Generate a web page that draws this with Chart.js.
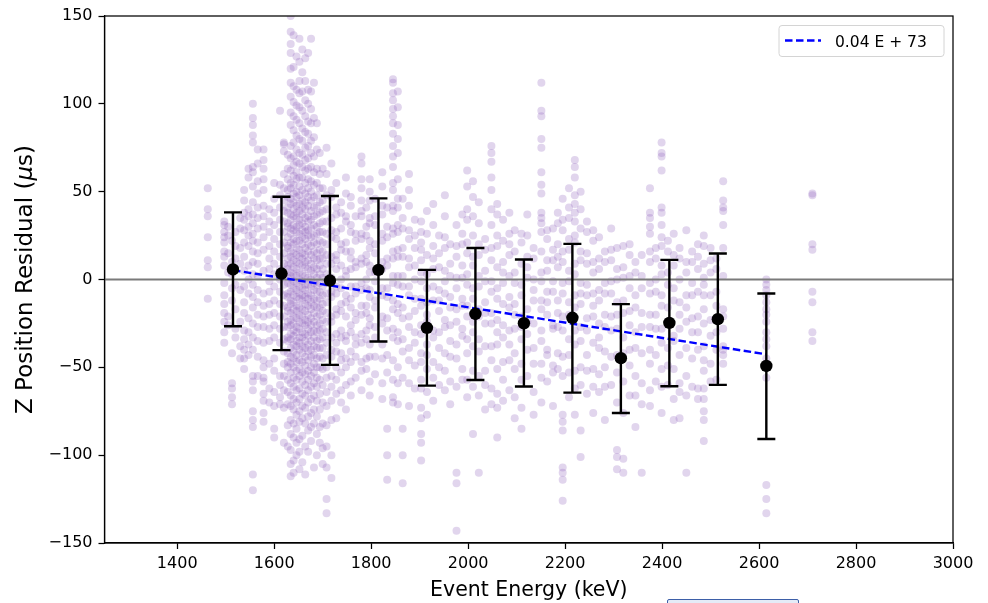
<!DOCTYPE html>
<html>
<head>
<meta charset="utf-8">
<script src="https://cdn.jsdelivr.net/npm/chart.js@4.4.1/dist/chart.umd.min.js"></script>
<style>
    html, body { margin: 0; padding: 0; background: #fff; }
    #wrap { position: relative; width: 988px; height: 603px; overflow: hidden; }
    #stub { position: absolute; left: 667px; top: 599px; width: 130px; height: 12px; border: 1px solid #3d5fa8; border-radius: 2px; background: #e4ebf7; }
</style>
</head>
<body>
<div id="wrap">
    <canvas id="chart" width="988" height="603"></canvas>
    <div id="stub"></div>
</div>
<script>
// axis ranges and ticks
const xMin = 1250, xMax = 3000;
const yMin = -150, yMax = 150;
const xTicks = [1400, 1600, 1800, 2000, 2200, 2400, 2600, 2800, 3000];
const yTicks = [-150, -100, -50, 0, 50, 100, 150];

// binned means with error bars
const binEnergy = [1515, 1615, 1715, 1815, 1915, 2015, 2115, 2215, 2315, 2415, 2515, 2615];
const binMean   = [5.7, 3.4, -0.6, 5.5, -27.5, -19.6, -24.9, -21.8, -44.8, -24.7, -22.6, -49.2];
const binHigh   = [38.2, 47.1, 47.5, 46.2, 5.5, 17.9, 11.4, 20.3, -14.0, 11.2, 14.8, -8.0];
const binLow    = [-26.6, -40.2, -48.6, -35.3, -60.4, -57.2, -60.9, -64.4, -76.0, -60.8, -60.0, -90.8];

// linear fit
const fitLabel = '0.04 E + 73';
const fitEnergy = [1515, 2615];
const fitResidual = [5.3, -42.6];

// individual events, grouped in energy stripes (keV) -> residuals (us)
const stripeEnergy = [
    1463, 1497, 1505, 1513, 1520, 1530, 1538, 1547, 1556, 1566,
    1578, 1590, 1600, 1612, 1620, 1628, 1634, 1640, 1646, 1652,
    1658, 1664, 1670, 1676, 1682, 1688, 1694, 1700, 1708, 1718,
    1728, 1738, 1748, 1758, 1768, 1780, 1790, 1797, 1808, 1823,
    1833, 1845, 1855, 1865, 1878, 1890, 1903, 1915, 1928, 1940,
    1952, 1963, 1976, 1988, 1998, 2010, 2022, 2035, 2048, 2060,
    2072, 2085, 2096, 2110, 2122, 2135, 2151, 2163, 2175, 2185,
    2195, 2208, 2220, 2232, 2245, 2258, 2270, 2282, 2295, 2307,
    2320, 2333, 2345, 2358, 2375, 2387, 2399, 2412, 2424, 2436,
    2450, 2462, 2474, 2486, 2500, 2512, 2526, 2615, 2710
];
const stripeResidual = [
    [52, 40, 36, 24, 11, 7, -11],
    [33, 31, 27, 24, 21, 16, 13, 8, -2, -9, -14, -19, -24, -30, -36],
    [30, 25, 15, 4, -21, -26],
    [22, 10, 3, -5, -12, -42, -59, -62, -67, -71],
    [27, 19, 12, -3, -17, -28, -33],
    [35, 29, 18, 9, -6, -24, -38, -45],
    [51, 45, 38, 34, 28, 21, 13, 5, -4, -13, -19, -29, -34, -40, -45, -51],
    [63, 58, 40, 36, 30, 25, 19, 8, 0, -8, -22, -30, -37, -43],
    [100, 92, 88, 82, 78, 64, 61, 53, 44, 37, 32, 26, 22, 16, 10, 3, -3, -10, -16, -25, -33, -40, -55, -58, -63, -75, -80, -84, -111, -120],
    [74, 66, 56, 49, 41, 35, 29, 21, 15, 9, 2, -6, -13, -20, -27, -35, -44, -55],
    [74, 68, 63, 57, 51, 42, 36, 30, 24, 17, 5, -8, -15, -21, -27, -36, -46, -50, -56, -58, -65, -69, -76, -81],
    [40, 33, 27, 19, 12, 6, -1, -7, -14, -20, -28, -35, -48, -62, -70],
    [55, 46, 38, 31, 23, 16, 9, 3, -4, -12, -19, -26, -33, -45, -52, -64, -72, -85, -90],
    [96, 54, 48, 41, 34, 27, 20, 13, 6, 0, -7, -14, -21, -28, -36, -55, -60, -67, -71],
    [78, 77, 73, 60, 52, 45, 39, 33, 27, 21, 15, 9, 3, -3, -9, -15, -21, -27, -34, -41, -48, -55, -63, -73, -93],
    [71, 63, 57, 51, 47, 41, 38, 32, 30, 24, 19, 18, 12, 8, 6, 1, -2, -8, -10, -16, -18, -24, -27, -33, -35, -42, -47, -50, -57, -64, -71, -83, -95],
    [150, 141, 134, 129, 120, 112, 104, 95, 88, 76, 69, 62, 55, 52, 46, 43, 37, 34, 29, 26, 21, 16, 13, 9, 4, 2, -3, -7, -12, -14, -19, -23, -26, -31, -34, -39, -44, -48, -53, -59, -66, -72, -80, -88, -97, -105, -112],
    [139, 121, 110, 101, 93, 85, 78, 70, 65, 59, 54, 49, 44, 40, 36, 31, 28, 23, 20, 15, 11, 7, 3, -1, -5, -9, -13, -17, -21, -25, -29, -32, -37, -41, -45, -50, -56, -61, -68, -74, -82, -90, -103, -110],
    [127, 108, 99, 91, 82, 74, 67, 61, 57, 50, 47, 42, 38, 35, 30, 27, 22, 18, 14, 10, 6, 2, -2, -6, -10, -15, -18, -22, -27, -30, -35, -38, -43, -47, -52, -57, -63, -70, -77, -85, -93, -100],
    [137, 124, 113, 106, 98, 89, 80, 72, 66, 58, 53, 48, 43, 39, 34, 31, 26, 22, 17, 13, 9, 4, 0, -4, -8, -11, -16, -20, -24, -28, -33, -36, -40, -46, -51, -55, -62, -68, -75, -81, -91, -98, -108],
    [131, 118, 107, 96, 86, 79, 71, 64, 58, 51, 45, 41, 37, 32, 28, 24, 20, 15, 12, 8, 3, -1, -5, -9, -12, -17, -21, -25, -30, -33, -38, -42, -47, -53, -58, -65, -72, -79, -89, -104],
    [126, 113, 102, 93, 84, 75, 68, 62, 55, 49, 44, 40, 35, 30, 27, 23, 18, 14, 10, 7, 2, -3, -6, -10, -14, -18, -23, -26, -31, -35, -39, -44, -49, -54, -60, -66, -73, -82, -95, -111],
    [129, 108, 100, 90, 83, 76, 69, 63, 57, 52, 47, 42, 36, 33, 28, 25, 20, 16, 11, 6, 1, -3, -8, -11, -15, -20, -24, -28, -32, -37, -41, -46, -52, -57, -63, -70, -78, -86, -98],
    [137, 107, 97, 89, 79, 72, 64, 56, 50, 45, 39, 34, 29, 24, 19, 14, 9, 5, 0, -4, -9, -13, -17, -22, -26, -30, -35, -40, -44, -50, -55, -61, -68, -76, -84, -92],
    [112, 92, 81, 70, 61, 54, 47, 41, 36, 31, 25, 21, 16, 12, 7, 3, -2, -6, -11, -15, -19, -24, -29, -33, -38, -43, -48, -53, -59, -66, -74, -82, -107],
    [89, 74, 63, 55, 48, 42, 37, 30, 26, 20, 15, 11, 6, 1, -3, -7, -12, -16, -21, -26, -30, -35, -39, -45, -50, -56, -61, -69, -78, -88, -100],
    [72, 60, 52, 44, 38, 32, 27, 22, 17, 12, 8, 3, -2, -7, -11, -16, -20, -25, -29, -34, -39, -44, -50, -57, -65, -74, -84, -93],
    [63, 52, 45, 39, 33, 27, 21, 16, 12, 6, 1, -4, -9, -14, -18, -23, -28, -33, -39, -45, -51, -60, -70, -82, -96, -105],
    [75, 60, 48, 40, 33, 26, 20, 14, 9, 3, -2, -8, -13, -19, -24, -30, -36, -43, -50, -56, -64, -72, -83, -95, -107, -125, -133],
    [66, 51, 47, 35, 28, 24, 13, 9, 1, -7, -10, -21, -24, -33, -40, -44, -55, -61, -69, -80, -100, -113],
    [55, 41, 37, 27, 23, 14, 11, 6, -4, -8, -17, -20, -31, -36, -41, -50, -57, -65, -79],
    [44, 38, 29, 20, 17, 8, 0, -5, -14, -18, -29, -33, -42, -46, -53, -63, -70],
    [58, 49, 36, 33, 21, 16, 5, 2, -9, -13, -21, -32, -35, -45, -50, -60, -74],
    [47, 42, 31, 27, 16, 12, 6, -4, -11, -16, -26, -30, -41, -47, -58, -66],
    [36, 26, 22, 10, 7, -4, -8, -19, -23, -33, -37, -44, -56],
    [70, 66, 57, 52, 45, 39, 36, 26, 23, 12, 9, -2, -6, -15, -20, -31, -36, -47, -52, -63],
    [41, 30, 25, 14, 10, 0, -5, -15, -19, -29, -34, -45, -51],
    [57, 50, 45, 35, 32, 22, 18, 8, 4, -6, -10, -22, -26, -37, -44, -58, -66],
    [46, 36, 31, 20, 15, 4, -1, -12, -16, -27, -33, -44, -54],
    [61, 53, 42, 37, 26, 22, 10, 6, -5, -9, -21, -25, -37, -45, -59, -68],
    [41, 30, 24, 12, 8, -5, -10, -22, -29, -43, -53, -85, -100, -114],
    [114, 112, 106, 102, 97, 93, 89, 83, 76, 70, 64, 55, 51, 42, 39, 29, 26, 16, 12, 2, -2, -12, -17, -28, -33, -46, -57, -67, -70],
    [107, 98, 88, 80, 72, 57, 46, 41, 31, 27, 17, 13, 2, -3, -14, -19, -30, -35, -50, -59, -71],
    [46, 35, 29, 18, 13, 2, -4, -16, -22, -34, -41, -56, -85, -100, -116],
    [60, 51, 42, 28, 23, 12, 7, -4, -9, -21, -27, -39, -46, -59, -72],
    [34, 25, 18, 8, 0, -11, -18, -30, -36, -49, -62],
    [33, 27, 21, 17, 11, 4, -1, -11, -15, -26, -31, -42, -47, -57, -62, -73, -79, -88, -93, -103],
    [39, 26, 14, 3, -5, -13, -20, -24, -37, -43, -51, -64, -77],
    [43, 31, 19, 12, 6, -4, -12, -29, -33, -47, -56, -69],
    [25, 15, 7, -6, -12, -18, -30, -39, -50, -60],
    [48, 36, 24, 18, 5, -1, -8, -23, -27, -42, -52, -63],
    [20, 9, 2, -10, -16, -26, -35, -44, -58, -71],
    [31, 19, 13, 1, -5, -17, -24, -37, -45, -61, -110, -116, -143],
    [37, 26, 20, 8, 1, -11, -15, -28, -32, -51, -57],
    [62, 53, 40, 34, 21, 15, 3, -3, -15, -21, -34, -42, -57, -67],
    [56, 47, 36, 25, 13, 8, -5, -11, -24, -30, -38, -52, -61, -88],
    [44, 32, 20, 14, 2, -4, -17, -21, -34, -41, -55, -66, -110],
    [23, 17, 5, -1, -13, -19, -25, -38, -52, -60, -74],
    [76, 72, 67, 58, 51, 40, 31, 18, 11, -1, -7, -19, -25, -38, -46, -62, -71],
    [43, 37, 25, 19, 7, -5, -11, -23, -30, -37, -51, -65, -73, -90],
    [34, 22, 10, 4, -2, -14, -26, -33, -47, -57, -69],
    [38, 26, 20, 14, 2, -10, -16, -29, -37, -46, -63],
    [28, 16, 4, -2, -14, -20, -28, -42, -51, -67, -79],
    [26, 21, 9, -3, -9, -21, -27, -34, -48, -57, -73, -85],
    [37, 25, 13, 7, 1, -17, -24, -31, -40, -55],
    [18, 12, 0, -6, -12, -25, -39, -48, -64, -77],
    [112, 96, 93, 80, 75, 61, 54, 49, 38, 35, 32, 27, 16, 4, -1, -12, -17, -29, -35, -48, -56, -70],
    [28, 23, 11, 5, -7, -13, -20, -40, -43, -58],
    [29, 17, 11, -1, -7, -26, -28, -49, -53, -72],
    [38, 32, 20, 13, 7, -12, -19, -27, -42, -51],
    [46, 34, 28, 16, 10, -2, -8, -21, -29, -44, -55, -77, -81, -86, -107, -110, -114, -126],
    [52, 41, 35, 23, 17, 5, -1, -13, -20, -34, -43, -53, -67],
    [68, 64, 58, 48, 43, 38, 33, 25, 21, 9, 3, -9, -16, -29, -37, -52, -62, -77],
    [50, 40, 29, 16, 11, -2, -8, -14, -27, -35, -50, -60, -86, -101],
    [33, 27, 15, 9, -3, -9, -22, -29, -43, -52, -65],
    [28, 22, 10, 4, -8, -15, -21, -36, -51, -61, -76],
    [24, 12, 6, -6, -12, -25, -33, -39, -54, -64],
    [16, 10, -2, -8, -20, -27, -41, -50, -61, -80],
    [29, 17, 11, -1, -8, -21, -29, -44, -60],
    [18, 6, 0, -13, -20, -28, -43, -53, -70, -97, -101, -108],
    [19, 7, 1, -12, -19, -33, -42, -58, -76, -102, -110],
    [20, 14, 2, -5, -18, -26, -40, -49, -66],
    [10, 4, -9, -16, -30, -39, -55, -66, -84],
    [14, 2, -5, -19, -27, -42, -59, -71, -110],
    [52, 38, 35, 30, 26, 16, 10, -2, -8, -20, -27, -40, -48, -63, -72],
    [18, 12, 0, -7, -20, -28, -43, -58],
    [78, 72, 70, 62, 41, 38, 31, 24, 19, 8, 3, -9, -15, -28, -36, -51, -61, -76],
    [22, 16, 4, -3, -16, -24, -39, -49, -60],
    [26, 14, 8, -5, -12, -32, -35, -51, -68, -80],
    [18, 12, 0, -13, -20, -28, -43, -59, -64, -79],
    [28, 10, 4, -9, -16, -24, -39, -55, -66, -110],
    [16, 10, -2, -9, -22, -30, -45, -61],
    [20, 13, 6, -7, -21, -30, -40, -62, -68],
    [25, 19, 9, 1, -3, -9, -17, -25, -38, -46, -52, -62, -68, -75, -80, -92],
    [18, 11, 4, -9, -23, -32, -48, -58],
    [12, 6, -7, -15, -30, -40, -57],
    [56, 45, 41, 39, 31, 18, 2, -17, -21, -28, -38, -40, -43, -48],
    [0, -3, -6, -9, -13, -17, -20, -24, -30, -34, -38, -45, -56, -117, -125, -133],
    [49, 48, 20, 17, -7, -13, -30, -35]
];

const FONT = "'DejaVu Sans', sans-serif";

const scatterPoints = [];
stripeEnergy.forEach((e, i) => {
    stripeResidual[i].forEach(r => scatterPoints.push({ x: e, y: r }));
});

const minusFmt = v => String(v).replace('-', '\u2212');

// error bars go right under the mean markers
const errorBars = {
    id: 'errorBars',
    beforeDatasetDraw(chart, args) {
        if (args.index !== 0) return;
        const { ctx, scales: { x, y } } = chart;
        ctx.save();
        ctx.strokeStyle = '#000';
        ctx.lineWidth = 2.4;
        binEnergy.forEach((e, i) => {
            const px = x.getPixelForValue(e);
            const top = y.getPixelForValue(binHigh[i]);
            const bot = y.getPixelForValue(binLow[i]);
            ctx.beginPath();
            ctx.moveTo(px, top); ctx.lineTo(px, bot);
            ctx.moveTo(px - 9, top); ctx.lineTo(px + 9, top);
            ctx.moveTo(px - 9, bot); ctx.lineTo(px + 9, bot);
            ctx.stroke();
        });
        ctx.restore();
    }
};

// frame, axis titles, legend box
const decorations = {
    id: 'decorations',
    afterDraw(chart) {
        const { ctx, chartArea: a } = chart;
        ctx.save();
        ctx.strokeStyle = '#000';
        ctx.lineWidth = 1.25;
        ctx.strokeRect(a.left, a.top, a.right - a.left, a.bottom - a.top);

        // x title
        ctx.fillStyle = '#000';
        ctx.font = `20.5px ${FONT}`;
        ctx.textAlign = 'center';
        ctx.textBaseline = 'alphabetic';
        ctx.fillText('Event Energy (keV)', (a.left + a.right) / 2, 596);

        // y title with italic mu
        const parts = [
            { t: 'Z Position Residual (', f: `23px ${FONT}` },
            { t: '\u03bc', f: `italic 23px ${FONT}` },
            { t: 's)', f: `23px ${FONT}` }
        ];
        let total = 0;
        parts.forEach(p => { ctx.font = p.f; p.w = ctx.measureText(p.t).width; total += p.w; });
        ctx.translate(32, (a.top + a.bottom) / 2);
        ctx.rotate(-Math.PI / 2);
        ctx.textAlign = 'left';
        let cx = -total / 2;
        parts.forEach(p => { ctx.font = p.f; ctx.fillText(p.t, cx, 0); cx += p.w; });
        ctx.restore();

        // legend
        ctx.save();
        const bx = 779, by = 25.5, bw = 165, bh = 31;
        ctx.beginPath();
        ctx.roundRect(bx, by, bw, bh, 3);
        ctx.fillStyle = 'rgba(255,255,255,0.85)';
        ctx.fill();
        ctx.strokeStyle = '#d4d4d4';
        ctx.lineWidth = 1;
        ctx.stroke();
        ctx.beginPath();
        ctx.setLineDash([7.5, 3.5]);
        ctx.strokeStyle = '#0000ff';
        ctx.lineWidth = 2.4;
        ctx.moveTo(785, 40.5);
        ctx.lineTo(821, 40.5);
        ctx.stroke();
        ctx.setLineDash([]);
        ctx.fillStyle = '#000';
        ctx.font = `15.5px ${FONT}`;
        ctx.textAlign = 'left';
        ctx.textBaseline = 'alphabetic';
        ctx.fillText(fitLabel, 835, 46.5);
        ctx.restore();
    }
};

new Chart(document.getElementById('chart'), {
    type: 'scatter',
    data: {
        datasets: [
            {
                label: 'binned mean',
                data: binEnergy.map((e, i) => ({ x: e, y: binMean[i] })),
                pointRadius: 6.2,
                backgroundColor: '#000',
                borderWidth: 0
            },
            {
                label: fitLabel,
                data: fitEnergy.map((e, i) => ({ x: e, y: fitResidual[i] })),
                showLine: true,
                borderColor: '#0000ff',
                borderWidth: 2.4,
                borderDash: [7.5, 3.5],
                pointRadius: 0
            },
            {
                label: 'zero',
                data: [{ x: xMin, y: 0 }, { x: xMax, y: 0 }],
                showLine: true,
                borderColor: '#7a7a7a',
                borderWidth: 2,
                pointRadius: 0
            },
            {
                label: 'events',
                data: scatterPoints,
                pointRadius: 4,
                backgroundColor: 'rgba(148,103,189,0.28)',
                borderWidth: 0
            }
        ]
    },
    options: {
        responsive: false,
        animation: false,
        events: [],
        layout: { padding: { top: 16, right: 35, left: 0, bottom: 0 } },
        plugins: {
            legend: { display: false },
            tooltip: { enabled: false }
        },
        scales: {
            x: {
                type: 'linear',
                min: xMin,
                max: xMax,
                afterBuildTicks: s => { s.ticks = xTicks.map(v => ({ value: v })); },
                afterFit: s => { s.height = 60; },
                grid: { drawOnChartArea: false, drawTicks: true, tickLength: 6, tickColor: '#000', tickWidth: 1.25 },
                border: { display: true, color: '#000', width: 1.25 },
                ticks: { color: '#000', font: { family: FONT, size: 16 }, padding: 5, maxRotation: 0, autoSkip: false, callback: minusFmt }
            },
            y: {
                type: 'linear',
                min: yMin,
                max: yMax,
                afterBuildTicks: s => { s.ticks = yTicks.map(v => ({ value: v })); },
                afterFit: s => { s.width = 104.5; },
                grid: { drawOnChartArea: false, drawTicks: true, tickLength: 6, tickColor: '#000', tickWidth: 1.25 },
                border: { display: true, color: '#000', width: 1.25 },
                ticks: { color: '#000', font: { family: FONT, size: 16 }, padding: 6, autoSkip: false, callback: minusFmt }
            }
        }
    },
    plugins: [errorBars, decorations]
});
</script>
</body>
</html>
